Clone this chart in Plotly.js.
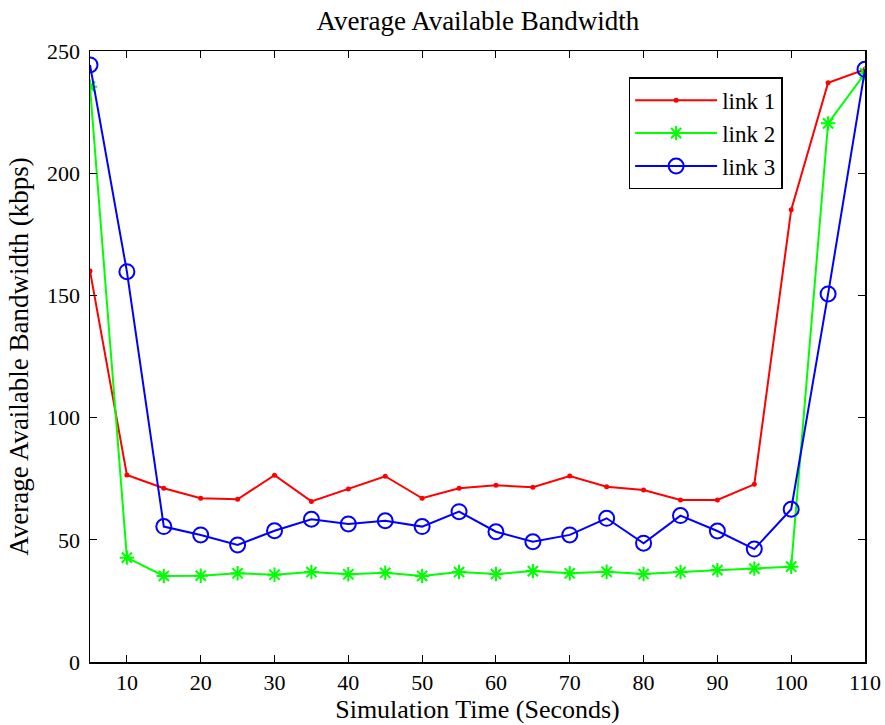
<!DOCTYPE html>
<html>
<head>
<meta charset="utf-8">
<script src="https://cdn.plot.ly/plotly-3.0.1.min.js"></script>
<style>
  html, body { margin: 0; padding: 0; background: #fff; }
  #chart { width: 885px; height: 725px; }
</style>
</head>
<body>
<div id="chart"></div>
<script>
// Simulation time samples (seconds)
const simTime = [5, 10, 15, 20, 25, 30, 35, 40, 45, 50, 55, 60, 65, 70, 75, 80, 85, 90, 95, 100, 105, 110];

// Average available bandwidth per link (kbps)
const link1 = [160, 76.5, 71.1, 67.0, 66.6, 76.4, 65.7, 70.8, 76.0, 67.0, 71.1, 72.3, 71.5, 76.1, 71.7, 70.4, 66.3, 66.3, 72.7, 185, 237, 242.5];
const link2 = [235.4, 42.7, 35.2, 35.3, 36.3, 35.7, 36.8, 35.9, 36.5, 35.2, 36.8, 36.0, 37.2, 36.3, 36.9, 36.0, 36.8, 37.6, 38.2, 39.0, 220.4, 240.9];
const link3 = [244.3, 159.7, 55.4, 52.0, 47.9, 53.7, 58.4, 56.5, 57.8, 55.4, 61.5, 53.3, 49.2, 52.0, 58.8, 48.6, 59.9, 53.6, 46.2, 62.5, 150.6, 242.5];

const seriesNames = ['link 1', 'link 2', 'link 3'];
const xTicks = [10, 20, 30, 40, 50, 60, 70, 80, 90, 100, 110];
const yTicks = [0, 50, 100, 150, 200, 250];

const serif = 'Liberation Serif, Times New Roman, serif';

const traces = [
  {
    x: simTime, y: link1, name: seriesNames[0], type: 'scatter', mode: 'lines+markers',
    line: { color: '#ff0000', width: 2 },
    marker: { symbol: 'circle', size: 5, color: '#ff0000' }
  },
  {
    x: simTime, y: link2, name: seriesNames[1], type: 'scatter', mode: 'lines+markers',
    line: { color: '#00ff00', width: 2 },
    marker: { symbol: 'asterisk-open', size: 12, color: '#00ff00', line: { color: '#00ff00', width: 2 } }
  },
  {
    x: simTime, y: link3, name: seriesNames[2], type: 'scatter', mode: 'lines+markers',
    line: { color: '#0000ff', width: 2 },
    marker: { symbol: 'circle-open', size: 15, color: '#0000ff', line: { color: '#0000ff', width: 2 } }
  }
];

const axisCommon = {
  showgrid: false,
  zeroline: false,
  showline: true,
  linecolor: '#000',
  linewidth: 1.5,
  mirror: 'ticks',
  ticks: 'inside',
  ticklen: 7,
  tickwidth: 1,
  tickcolor: '#000',
  tickfont: { family: serif, size: 22, color: '#000' }
};

const layout = {
  width: 885,
  height: 725,
  paper_bgcolor: '#fff',
  plot_bgcolor: '#fff',
  margin: { l: 90, r: 20, t: 51, b: 63 },
  title: {
    text: 'Average Available Bandwidth',
    font: { family: serif, size: 27, color: '#000' },
    x: 0.54, xanchor: 'center', y: 0.972, yanchor: 'middle'
  },
  xaxis: Object.assign({}, axisCommon, {
    range: [5, 110],
    tickvals: xTicks,
    ticktext: xTicks.map(String),
    ticklabelstandoff: 0,
    title: { text: 'Simulation Time (Seconds)', font: { family: serif, size: 26, color: '#000' }, standoff: 3 }
  }),
  yaxis: Object.assign({}, axisCommon, {
    range: [0, 250],
    tickvals: yTicks,
    ticktext: yTicks.map(String),
    ticklabelstandoff: 4,
    title: { text: 'Average Available Bandwidth (kbps)', font: { family: serif, size: 27, color: '#000' }, standoff: 10 }
  }),
  legend: {
    x: 0.695, xanchor: 'left',
    y: 0.957, yanchor: 'top',
    bgcolor: '#fff',
    bordercolor: '#000',
    borderwidth: 1.5,
    font: { family: serif, size: 23, color: '#000' },
    tracegroupgap: 0,
    itemwidth: 82
  },
  showlegend: true
};

Plotly.newPlot('chart', traces, layout, { displayModeBar: false, staticPlot: true });
</script>
</body>
</html>
